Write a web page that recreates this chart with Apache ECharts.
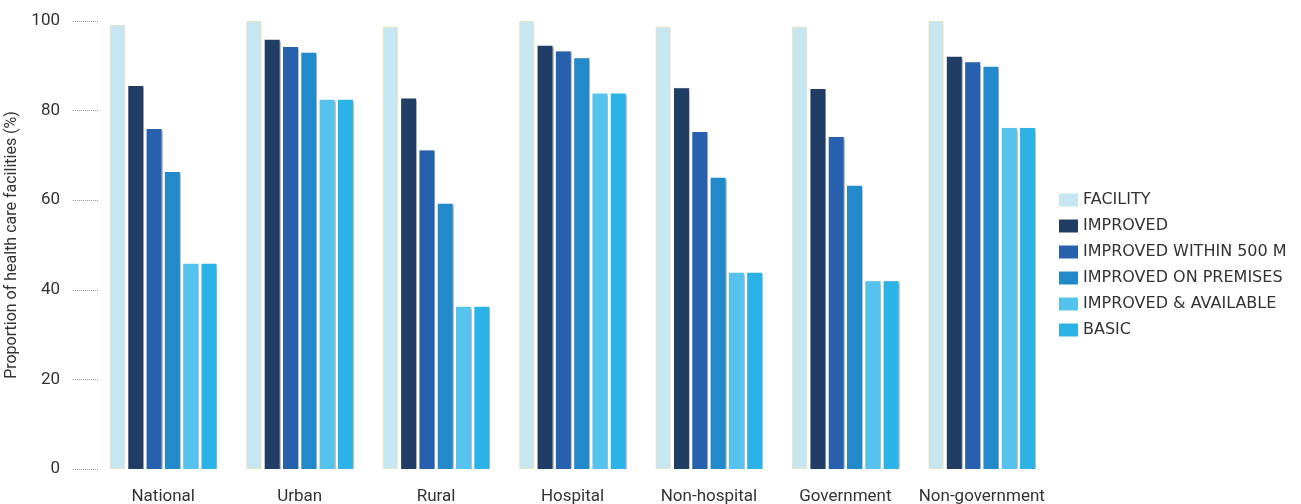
<!DOCTYPE html>
<html>
<head>
<meta charset="utf-8">
<script src="https://cdn.jsdelivr.net/npm/echarts@6/dist/echarts.min.js"></script>
<style>
html,body{margin:0;padding:0;background:#fff;}
#chart{width:1301px;height:504px;}
</style>
</head>
<body>
<div id="chart"></div>
<script>
var categories = ['National','Urban','Rural','Hospital','Non-hospital','Government','Non-government'];
var seriesNames = ['FACILITY','IMPROVED','IMPROVED WITHIN 500 M','IMPROVED ON PREMISES','IMPROVED & AVAILABLE','BASIC'];
var facility = [99.1, 100, 98.7, 100, 98.7, 98.7, 100];
var improved = [85.5, 95.8, 82.7, 94.5, 85.0, 84.8, 92.0];
var improvedWithin500m = [75.9, 94.2, 71.1, 93.2, 75.2, 74.1, 90.8];
var improvedOnPremises = [66.3, 92.9, 59.2, 91.7, 65.0, 63.2, 89.8];
var improvedAvailable = [45.8, 82.4, 36.2, 83.8, 43.8, 41.9, 76.1];
var basic = [45.8, 82.4, 36.2, 83.8, 43.8, 41.9, 76.1];
var yTicks = [0, 20, 40, 60, 80, 100];

var colors = ['#c6e7f2','#203d66','#2761ad','#2289cb','#56c3ef','#2bb3e8'];
var allData = [facility, improved, improvedWithin500m, improvedOnPremises, improvedAvailable, basic];

var chart = echarts.init(document.getElementById('chart'));
var series = seriesNames.map(function(n, i){
  var s = {
    name: n,
    type: 'bar',
    data: allData[i],
    barWidth: 15,
    barGap: '22%',
    itemStyle: { color: colors[i] }
  };
  if (i === 0) {
    s.itemStyle.borderColor = 'rgba(228,224,185,0.8)';
    s.itemStyle.borderWidth = 1;
  } else {
    s.itemStyle.shadowColor = 'rgba(0,0,0,0.25)';
    s.itemStyle.shadowOffsetX = 1;
    s.itemStyle.shadowBlur = 1;
  }
  return s;
});

chart.setOption({
  animation: false,
  color: colors,
  grid: { left: 95, right: 251, top: 21, bottom: 35, containLabel: false, outerBoundsMode: 'none' },
  legend: {
    orient: 'vertical',
    left: 1054,
    top: 187,
    itemWidth: 19,
    itemHeight: 13,
    itemGap: 10,
    icon: 'rect',
    itemStyle: { borderWidth: 0, shadowBlur: 0, shadowOffsetX: 0 },
    textStyle: { fontFamily: 'DejaVu Sans', fontSize: 16, color: '#333' },
    data: seriesNames
  },
  xAxis: {
    type: 'category',
    data: categories,
    axisLine: { show: false },
    axisTick: { show: false },
    axisLabel: { fontFamily: 'Roboto', fontSize: 17, color: '#333', margin: 19, interval: 0 }
  },
  yAxis: {
    type: 'value',
    min: yTicks[0],
    max: yTicks[yTicks.length - 1],
    interval: 20,
    offset: -3,
    name: 'Proportion of health care facilities (%)',
    nameLocation: 'middle',
    nameGap: 70,
    nameTextStyle: { fontFamily: 'Roboto', fontSize: 16, color: '#333' },
    axisLine: { show: false },
    axisTick: { show: true, length: 25, lineStyle: { type: 'dotted', color: '#999', width: 1 } },
    splitLine: { show: false },
    axisLabel: { fontFamily: 'Roboto', fontSize: 17, color: '#333', margin: 38 }
  },
  series: series
});
</script>
</body>
</html>
